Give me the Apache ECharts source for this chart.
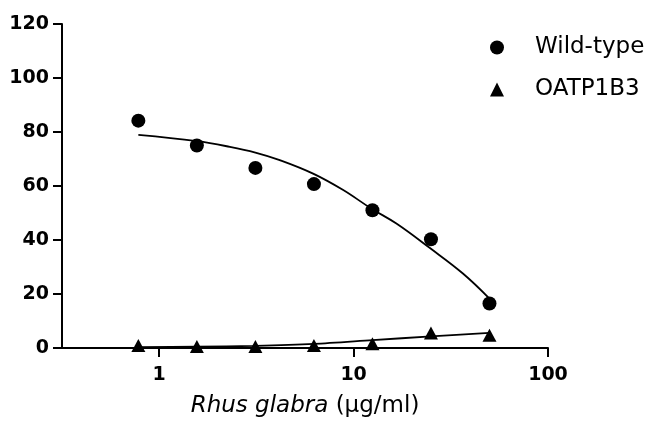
<!DOCTYPE html>
<html>
<head>
<meta charset="utf-8">
<script src="https://cdn.jsdelivr.net/npm/echarts@6/dist/echarts.min.js"></script>
<style>
  html, body { margin: 0; padding: 0; background: #fff; }
  #chart { width: 659px; height: 425px; }
</style>
</head>
<body>
<div id="chart"></div>
<script>
// concentrations (µg/ml), two-fold dilutions
const doses = [0.78125, 1.5625, 3.125, 6.25, 12.5, 25, 50];
const wildType = [84.2, 75.0, 66.7, 60.7, 51.0, 40.3, 16.5];
const oatp1b3 = [0.9, 0.6, 0.6, 0.9, 1.6, 5.6, 4.7];
// fitted curves
const wildTypeFitX = [0.78125, 1.5625, 2.31, 3.125, 4.17, 6.19, 8.8, 12.3, 16.6, 24.6, 36.5, 50];
const wildTypeFitY = [78.9, 76.6, 74.5, 72.4, 69.6, 64.6, 58.6, 51.7, 46.1, 37.1, 27.6, 18.3];
const oatp1b3FitY = [0.3, 0.5, 0.8, 1.5, 2.9, 4.3, 5.6];
const xTicks = [1, 10, 100];

const pairs = (xs, ys) => xs.map((x, i) => [x, ys[i]]);
const font = "DejaVu Sans";

const chart = echarts.init(document.getElementById("chart"));

chart.setOption({
  backgroundColor: "#ffffff",
  animation: false,
  grid: { left: 62, right: 111, top: 24, bottom: 77 },
  legend: {
    data: ["Wild-type", "OATP1B3"],
    orient: "vertical",
    left: 485,
    top: 31,
    itemWidth: 14,
    itemHeight: 14,
    itemGap: 19,
    textStyle: { fontFamily: font, fontSize: 23, color: "#000", padding: [0, 0, 0, 26] },
  },
  xAxis: {
    type: "log",
    logBase: 10,
    min: Math.pow(10, -0.5),
    max: 100,
    name: "{i|Rhus glabra} (μg/ml)",
    nameLocation: "middle",
    nameGap: 47,
    nameTextStyle: {
      fontFamily: font,
      fontSize: 23,
      color: "#000",
      rich: { i: { fontFamily: font, fontSize: 23, fontStyle: "italic", color: "#000" } },
    },
    axisLine: { lineStyle: { color: "#000", width: 2 } },
    axisTick: { show: true, length: 9, lineStyle: { color: "#000", width: 2 }, customValues: xTicks },
    axisLabel: {
      customValues: xTicks,
      fontFamily: font,
      fontSize: 19,
      fontWeight: "bold",
      color: "#000",
      margin: 18,
    },
    splitLine: { show: false },
    minorTick: { show: false },
  },
  yAxis: {
    type: "value",
    min: 0,
    max: 120,
    interval: 20,
    axisLine: { show: true, lineStyle: { color: "#000", width: 2 } },
    axisTick: { show: true, length: 9, lineStyle: { color: "#000", width: 2 } },
    axisLabel: {
      fontFamily: font,
      fontSize: 19,
      fontWeight: "bold",
      color: "#000",
      margin: 13,
    },
    splitLine: { show: false },
  },
  series: [
    {
      name: "Wild-type fit",
      type: "line",
      data: pairs(wildTypeFitX, wildTypeFitY),
      smooth: 0.4,
      showSymbol: false,
      lineStyle: { color: "#000", width: 1.8 },
      z: 2,
    },
    {
      name: "OATP1B3 fit",
      type: "line",
      data: pairs(doses, oatp1b3FitY),
      smooth: 0.3,
      showSymbol: false,
      lineStyle: { color: "#000", width: 1.8 },
      z: 2,
    },
    {
      name: "Wild-type",
      type: "scatter",
      data: pairs(doses, wildType),
      symbol: "circle",
      symbolSize: 14,
      itemStyle: { color: "#000", opacity: 1 },
      z: 3,
    },
    {
      name: "OATP1B3",
      type: "scatter",
      data: pairs(doses, oatp1b3),
      symbol: "triangle",
      symbolSize: [14, 13],
      itemStyle: { color: "#000", opacity: 1 },
      z: 3,
    },
  ],
});
</script>
</body>
</html>
